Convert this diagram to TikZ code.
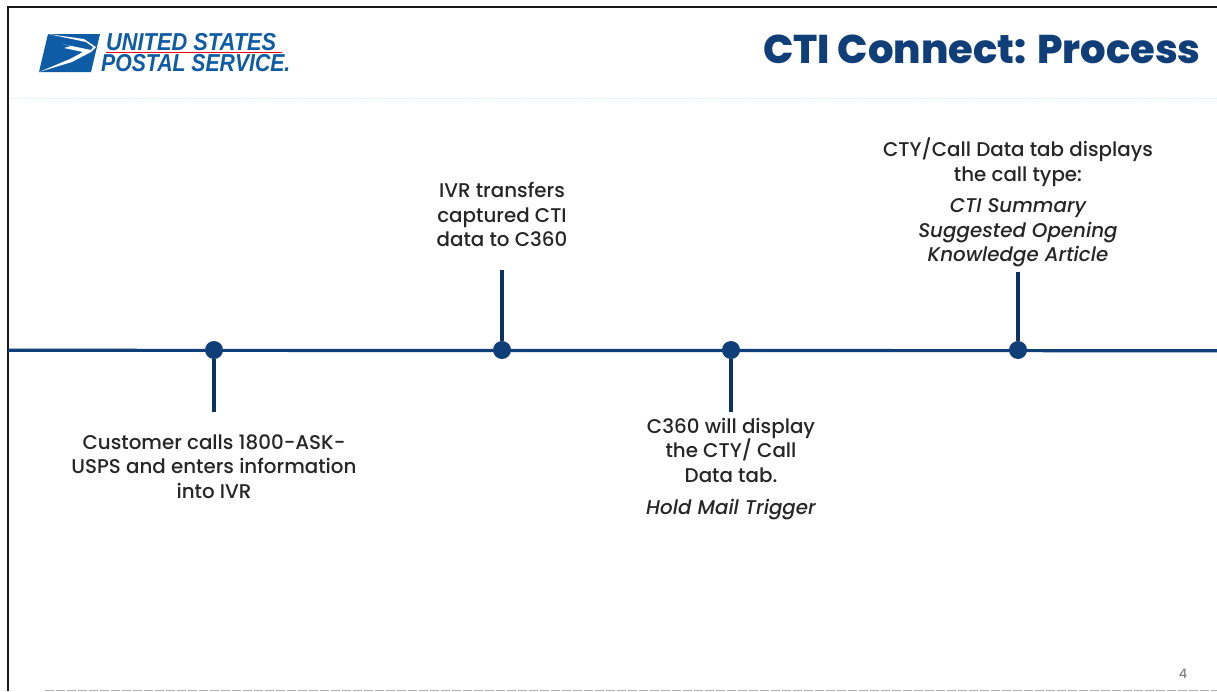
\documentclass[tikz,border=0pt]{standalone}
\usepackage{fontspec}
\setmainfont{Poppins Medium}[ItalicFont={Poppins Medium Italic}]
\newfontfamily\titlefont{Poppins ExtraBold}
\newfontfamily\logofont{Liberation Sans}
\definecolor{navy}{HTML}{0F3E78}
\definecolor{uspsblue}{HTML}{0F5CA6}
\tikzset{
  lbl/.style={align=center,font=\fontsize{19.85}{24.5}\selectfont,text=black!85,inner sep=0pt},
  dot/.style={circle,fill=navy,draw=none,minimum size=18pt,inner sep=0pt},
  stem/.style={line width=3.2pt,draw=navy!80!black},
  axis/.style={line width=3.2pt,draw=navy},
  frame/.style={line width=2.6pt,draw=black!90},
  logotxt/.style={font=\logofont\bfseries\itshape\fontsize{24.5}{24.5}\selectfont,text=uspsblue,inner sep=0pt,anchor=west}
}
\begin{document}
\begin{tikzpicture}[x=1pt,y=-1pt]
\useasboundingbox (0,0) rectangle (1217,691);
\fill[white] (0,0) rectangle (1217,691);
\draw[frame] (1217,7) -- (8,7) -- (8,691);
\draw[line width=1pt,draw=cyan!12,dash pattern=on 6pt off 1pt] (10,98) -- (1217,98);
\draw[line width=1pt,draw=black!30,dash pattern=on 9pt off 2pt] (45,690.5) -- (1217,690.5);
% logo
\fill[uspsblue] (48,34) -- (100,34) -- (91,72) -- (39,72) -- cycle;
\fill[white] (48,34) -- (86,42) -- (93,47) -- (91,50) -- (62,44) -- (71,46) -- (64,48) -- (83,52) -- (70,59) -- (39,72) -- (72,62) -- (91,52) -- (96,47) -- (84,39) -- cycle;
\node[logotxt,xscale=0.89] (us) at (106,42.5) {UNITED STATES};
\node[logotxt,xscale=0.865] (ps) at (101,63.5) {POSTAL SERVICE.};
\draw[line width=1pt,draw=red!70!purple] (106,52.5) -- (282,52.5);
% title
\node[inner sep=0pt,text=navy,font=\titlefont\fontsize{40.1}{40.1}\selectfont] (title) at (982,49) {CTI Connect: Process};
% timeline
\coordinate (L) at (8,350.3);
\coordinate (R) at (1217,350.7);
\draw[axis] (L) -- (R);
\node[dot] (d1) at (214,350) {};
\node[dot] (d2) at (502,350) {};
\node[dot] (d3) at (731,350) {};
\node[dot] (d4) at (1018,350) {};
\coordinate (s1) at (214,412);
\coordinate (s2) at (502,270);
\coordinate (s3) at (731,412);
\coordinate (s4) at (1018,272);
\draw[stem] (d1) -- (s1);
\draw[stem] (d2) -- (s2);
\draw[stem] (d3) -- (s3);
\draw[stem] (d4) -- (s4);
% labels
\node[lbl] (t1) at (214,466.5) {Customer calls 1800-ASK-\\USPS and enters information\\into IVR};
\node[lbl] (t2) at (502,214.5) {IVR transfers\\captured CTI\\data to C360};
\node[lbl] (t3) at (731,450) {C360 will display\\the CTY/ Call\\Data tab.};
\node[lbl] (t3b) at (731,510) {\itshape Hold Mail Trigger};
\node[lbl] (t4) at (1018,162) {CTY/Call Data tab displays\\the call type:};
\node[lbl] (t4b) at (1018,233) {\itshape CTI Summary\\\itshape Suggested Opening\\\itshape Knowledge Article};
\node[inner sep=0pt,text=black!50,font=\fontsize{13}{13}\selectfont] (pg) at (1183,674) {4};
\end{tikzpicture}
\end{document}
